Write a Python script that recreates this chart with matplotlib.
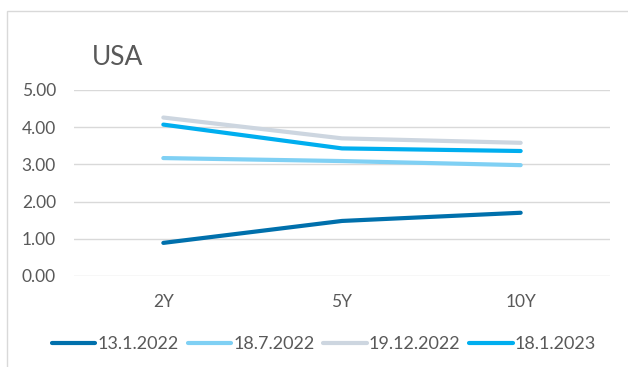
import matplotlib
matplotlib.use("Agg")
import matplotlib.pyplot as plt
from matplotlib.patches import Rectangle

plt.rcParams['font.family'] = ['Lato', 'DejaVu Sans']

maturities = ["2Y", "5Y", "10Y"]
dates = ["13.1.2022", "18.7.2022", "19.12.2022", "18.1.2023"]
yields_13_01_2022 = [0.89, 1.48, 1.70]
yields_18_07_2022 = [3.17, 3.09, 2.98]
yields_19_12_2022 = [4.26, 3.70, 3.58]
yields_18_01_2023 = [4.07, 3.43, 3.36]
series = [yields_13_01_2022, yields_18_07_2022, yields_19_12_2022, yields_18_01_2023]
colors = ["#0070AC", "#7FD0F4", "#CDD6E0", "#00AEEF"]
yticks = [0, 1, 2, 3, 4, 5]

W, H = 628, 367
fig = plt.figure(figsize=(W / 100, H / 100), dpi=100)

# chart-area frame
fig.patches.append(Rectangle((7 / W, -0.1), 1.2, (H - 11) / H + 0.1,
                             transform=fig.transFigure, fill=False,
                             edgecolor="#D9D9D9", linewidth=1.0))

ax = fig.add_axes([74 / W, (H - 276) / H, (610 - 74) / W, (276 - 90) / H])
x = list(range(len(maturities)))
for vals, c, lab in zip(series, colors, dates):
    ax.plot(x, vals, color=c, linewidth=3.0, solid_capstyle="round",
            solid_joinstyle="round", label=lab)

ax.set_xlim(-0.5, 2.5)
ax.set_ylim(0, 5)
ax.set_yticks(yticks)
ax.set_yticklabels([f"{v:.2f}" for v in yticks])
ax.set_xticks(x)
ax.set_xticklabels(maturities)
ax.yaxis.grid(True, color="#D9D9D9", linewidth=1.0)
ax.set_axisbelow(True)
for s in ax.spines.values():
    s.set_visible(False)
ax.tick_params(axis="both", length=0, labelsize=12.5, labelcolor="#595959")
ax.tick_params(axis="y", pad=13)
ax.tick_params(axis="x", pad=13)

fig.text(92 / W, (H - 65) / H, "USA", fontsize=19, color="#595959",
         ha="left", va="baseline")

leg = fig.legend(loc="center", bbox_to_anchor=(324 / W, (H - 344) / H),
                 ncol=4, frameon=False, fontsize=13, handlelength=2.4,
                 handletextpad=0.12, columnspacing=0.5, labelcolor="#595959")
for h in leg.legend_handles:
    h.set_linewidth(3.0)
    h.set_solid_capstyle("round")

fig.savefig("out.png", dpi=100)
